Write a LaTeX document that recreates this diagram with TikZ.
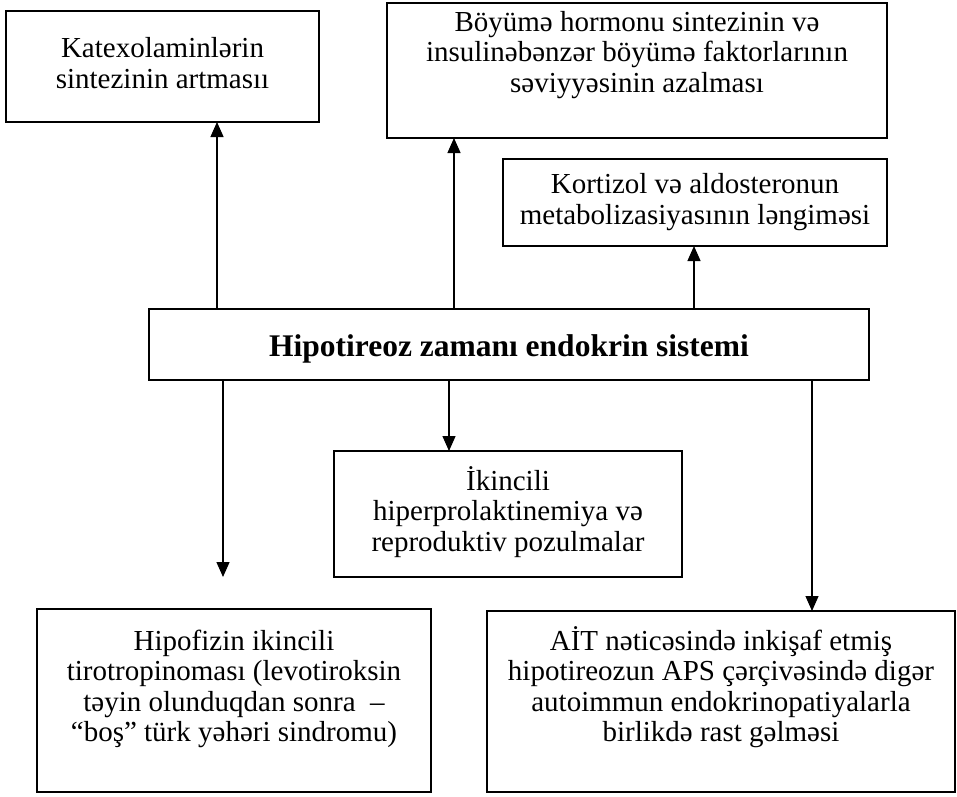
\documentclass[tikz,border=0pt]{standalone}
\usepackage{fontspec}
\setmainfont{Liberation Serif}
\usetikzlibrary{arrows.meta}
\begin{document}
\begin{tikzpicture}[x=1pt,y=-1pt,
  box/.style={draw,line width=1.4pt,inner sep=0pt,outer sep=0pt},
  txt/.style={align=center,inner sep=0pt,font=\fontsize{29}{30.5}\selectfont},
  title/.style={align=center,inner sep=0pt,font=\fontsize{31.5}{34}\selectfont\bfseries},
  arr/.style={line width=1.3pt,-{Triangle[width=13pt,length=15pt]}}]
\useasboundingbox (0,0) rectangle (957,796);

% frames
\node[box,minimum width=313pt,minimum height=111pt] (k1) at (162.5,66.5) {};
\node[box,minimum width=500pt,minimum height=135pt] (k2) at (637,70.5) {};
\node[box,minimum width=384pt,minimum height=87pt]  (k3) at (695,202.5) {};
\node[box,minimum width=720pt,minimum height=71pt]  (main) at (509,344.5) {};
\node[box,minimum width=348pt,minimum height=126pt] (k5) at (508,514) {};
\node[box,minimum width=394pt,minimum height=183pt] (k6) at (234,700.5) {};
\node[box,minimum width=468pt,minimum height=181pt] (k7) at (721,701.5) {};

% texts
\node[txt] (t1) at (162.5,63) {Katexolaminlərin\\sintezinin artmasıı};
\node[txt] (t2) at (637,55) {Böyümə hormonu sintezinin və\\insulinəbənzər böyümə faktorlarının\\səviyyəsinin azalması};
\node[txt] (t3) at (695,202) {Kortizol və aldosteronun\\metabolizasiyasının ləngiməsi};
\node[title] (tm) at (509,349) {Hipotireoz zamanı endokrin sistemi};
\node[txt] (t5) at (508,512) {İkincili\\hiperprolaktinemiya və\\reproduktiv pozulmalar};
\node[txt] (t6) at (234,689) {Hipofizin ikincili\\tirotropinoması (levotiroksin\\təyin olunduqdan sonra~~–\\“boş” türk yəhəri sindromu)};
\node[txt] (t7) at (721,687) {AİT nəticəsində inkişaf etmiş\\hipotireozun APS çərçivəsində digər\\autoimmun endokrinopatiyalarla\\birlikdə rast gəlməsi};

% connector columns
\coordinate (u1) at (217,0);
\coordinate (u2) at (454,0);
\coordinate (u3) at (694,0);
\coordinate (v1) at (223,0);
\coordinate (v2) at (449,0);
\coordinate (v3) at (812,0);
\coordinate (e1) at (223,577);

\draw[arr] (u1 |- main.north) -- (u1 |- k1.south);
\draw[arr] (u2 |- main.north) -- (u2 |- k2.south);
\draw[arr] (u3 |- main.north) -- (u3 |- k3.south);
\draw[arr] (v1 |- main.south) -- (e1);
\draw[arr] (v2 |- main.south) -- (v2 |- k5.north);
\draw[arr] (v3 |- main.south) -- (v3 |- k7.north);
\end{tikzpicture}
\end{document}
